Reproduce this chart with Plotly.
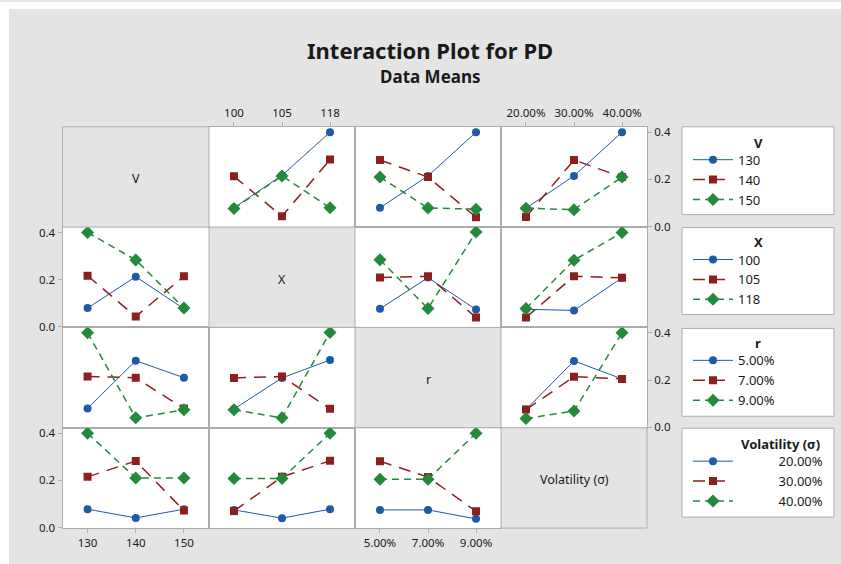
import plotly.graph_objects as go

W = 841
H_REF = 564          # height of the reference picture
H = 572              # figure height (the photographed page is fitted to 564)

# ---------------- data ----------------
factor_names = ["V", "X", "r", "Volatility (σ)"]
v_levels = ["130", "140", "150"]
x_levels = ["100", "105", "118"]
r_levels = ["5.00%", "7.00%", "9.00%"]
sigma_levels = ["20.00%", "30.00%", "40.00%"]

# mean PD: rows = levels of first factor, cols = levels of second factor
mean_V_X = [[0.080, 0.217, 0.400], [0.213, 0.044, 0.284], [0.077, 0.215, 0.080]]
mean_V_r = [[0.080, 0.215, 0.400], [0.282, 0.210, 0.040], [0.210, 0.079, 0.074]]
mean_V_sigma = [[0.078, 0.215, 0.400], [0.041, 0.282, 0.210], [0.078, 0.072, 0.210]]
mean_X_r = [[0.077, 0.209, 0.074], [0.209, 0.215, 0.040], [0.285, 0.078, 0.402]]
mean_X_sigma = [[0.075, 0.070, 0.208], [0.040, 0.215, 0.208], [0.078, 0.283, 0.400]]
mean_r_sigma = [[0.075, 0.281, 0.205], [0.075, 0.214, 0.205], [0.037, 0.069, 0.400]]

y_ticks = [0.0, 0.2, 0.4]

# ---------------- styling ----------------
FONT = "Noto Sans"
GRAY_BG = "#e4e4e4"
BORDER = "#acacac"
TXT = "#1a1a1a"
colors = ["#1f5aa6", "#8e1f1f", "#248a3b"]
symbols = ["circle", "square", "diamond"]
msizes = [8, 8, 10]
dashes = ["solid", "12px,8px", "7px,5px"]
lwidths = [1, 1.5, 1.5]

all_levels = [v_levels, x_levels, r_levels, sigma_levels]
pair = {
    (0, 1): mean_V_X, (0, 2): mean_V_r, (0, 3): mean_V_sigma,
    (1, 2): mean_X_r, (1, 3): mean_X_sigma, (2, 3): mean_r_sigma,
}


def means(i, j):
    if (i, j) in pair:
        return pair[(i, j)]
    m = pair[(j, i)]
    return [[m[b][a] for b in range(3)] for a in range(3)]


# panel edges (px in the reference picture)
xe = [62.5, 209, 355, 501, 647]
ye = [125, 225.5, 326, 426.5, 527]


def px2x(p):
    return p / W


def py2y(p):
    return 1 - p / H_REF


legend_row_panel = {0: 1, 1: 0, 2: 3, 3: 0}  # which column panel feeds each legend

fig = go.Figure()
layout = {}
shapes = []
annotations = []


def note(text, x, y, size, xanchor="center"):
    annotations.append(dict(text=text, xref="paper", yref="paper",
                            x=px2x(x), y=py2y(y), xanchor=xanchor, yanchor="middle",
                            showarrow=False, font=dict(family=FONT, size=size, color=TXT)))


for i in range(4):
    for j in range(4):
        k = i * 4 + j + 1
        xa = "xaxis" if k == 1 else f"xaxis{k}"
        ya = "yaxis" if k == 1 else f"yaxis{k}"
        xr = "x" if k == 1 else f"x{k}"
        yr = "y" if k == 1 else f"y{k}"
        xdom = [px2x(xe[j]), px2x(xe[j + 1])]
        ydom = [py2y(ye[i + 1]), py2y(ye[i])]

        show_x = (i == 0 and j in (1, 3)) or (i == 3 and j in (0, 2))
        show_y = (j == 3 and i in (0, 2)) or (j == 0 and i in (1, 3))
        layout[xa] = dict(
            domain=xdom, anchor=yr, type="category",
            categoryorder="array", categoryarray=all_levels[j],
            range=[-0.52, 2.52], showgrid=False, zeroline=False,
            showline=True, mirror=True, linecolor=BORDER, linewidth=1,
            side="top" if i == 0 else "bottom",
            showticklabels=show_x, ticks="outside" if show_x else "",
            ticklen=4, tickcolor=BORDER,
            tickfont=dict(family=FONT, size=11.5, color=TXT),
            fixedrange=True,
        )
        layout[ya] = dict(
            domain=ydom, anchor=xr, range=[-0.002, 0.423],
            tickvals=y_ticks, tickformat=".1f",
            showgrid=False, zeroline=False,
            showline=True, mirror=True, linecolor=BORDER, linewidth=1,
            side="right" if j == 3 else "left",
            showticklabels=show_y, ticks="outside" if show_y else "",
            ticklen=4, tickcolor=BORDER,
            tickfont=dict(family=FONT, size=11.5, color=TXT),
            fixedrange=True,
        )
        if i == j:
            shapes.append(dict(type="rect", xref="paper", yref="paper",
                               x0=xdom[0], x1=xdom[1], y0=ydom[0], y1=ydom[1],
                               fillcolor=GRAY_BG, line=dict(color=BORDER, width=1),
                               layer="above"))
            note(factor_names[i], (xe[j] + xe[j + 1]) / 2, (ye[i] + ye[i + 1]) / 2 + 2, 12.5)
            continue
        m = means(i, j)
        for s in range(3):
            name = all_levels[i][s]
            if i == 3:
                name = "\u00a0" * 12 + name
            fig.add_trace(go.Scatter(
                x=all_levels[j], y=m[s], xaxis=xr, yaxis=yr,
                mode="lines+markers",
                name=name,
                line=dict(color=colors[s], width=lwidths[s], dash=dashes[s]),
                marker=dict(color=colors[s], symbol=symbols[s], size=msizes[s]),
                showlegend=(j == legend_row_panel[i]),
                legend="legend" if i == 0 else f"legend{i + 1}",
                hoverinfo="skip",
            ))

# legend boxes
boxes = [(682, 125, 834, 213), (682, 226, 834, 313), (682, 327, 834, 415), (682, 427, 834, 516)]
title_y = [141, 240, 342, 443]
item1_y = [161, 261, 362, 463]
for n, (x0, y0, x1, y1) in enumerate(boxes):
    shapes.append(dict(type="rect", xref="paper", yref="paper",
                       x0=px2x(x0), x1=px2x(x1), y0=py2y(y1), y1=py2y(y0),
                       fillcolor="white", line=dict(color=BORDER, width=1), layer="below"))
    lname = "legend" if n == 0 else f"legend{n + 1}"
    layout[lname] = dict(
        x=px2x(688), y=py2y(item1_y[n] - 18), xanchor="left", yanchor="top",
        bgcolor="rgba(0,0,0,0)", borderwidth=0, itemwidth=40,
        font=dict(family=FONT, size=13, color=TXT),
        itemclick=False, itemdoubleclick=False,
    )
    if n < 3:
        note("<b>" + factor_names[n] + "</b>", 758, title_y[n], 13)
    else:
        note("<b>" + factor_names[n] + "</b>", 822, title_y[n], 13, xanchor="right")

# white strips outside the gray frame (as in the reference)
shapes.append(dict(type="rect", xref="paper", yref="paper", x0=0, x1=px2x(9), y0=0, y1=1,
                   fillcolor="white", line=dict(width=0), layer="below"))
shapes.append(dict(type="rect", xref="paper", yref="paper", x0=0, x1=1, y0=py2y(7), y1=1,
                   fillcolor="white", line=dict(width=0), layer="below"))

note("<b>Interaction Plot for PD</b>", 430, 48, 22)
note("<b>Data Means</b>", 430, 75, 17)

fig.update_layout(
    width=W, height=H, margin=dict(l=0, r=0, t=0, b=0),
    paper_bgcolor=GRAY_BG, plot_bgcolor="white",
    shapes=shapes, annotations=annotations, **layout,
)
fig.write_html(
    "out.html",
    config={"displayModeBar": False, "staticPlot": True},
    post_script=(
        "var gd=document.getElementById('{plot_id}');"
        "gd.style.position='fixed';gd.style.top='0px';gd.style.left='0px';"
        "document.documentElement.style.margin='0';"
        "document.documentElement.style.overflow='hidden';"
        "document.body.style.margin='0';"
        "document.body.style.overflow='hidden';"
    ),
)
